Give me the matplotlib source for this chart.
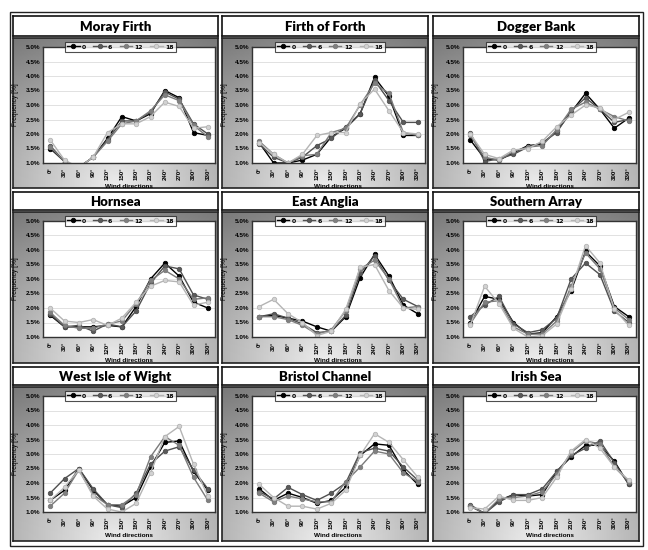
import numpy as np
import matplotlib.pyplot as plt
from matplotlib.patches import Rectangle

# wind direction sectors and hours of the day
directions = [0, 30, 60, 90, 120, 150, 180, 210, 240, 270, 300, 330]
dir_labels = [f"{d}°" for d in directions]
hours = ['0', '6', '12', '18']

sites = ['Moray Firth', 'Firth of Forth', 'Dogger Bank',
         'Hornsea', 'East Anglia', 'Southern Array',
         'West Isle of Wight', 'Bristol Channel', 'Irish Sea']

# frequency [%] per site, one row per hour (0, 6, 12, 18)
moray_firth = [
    [1.50, 1.05, 0.85, 1.20, 1.85, 2.60, 2.45, 2.70, 3.50, 3.25, 2.05, 1.95],
    [1.60, 1.05, 0.85, 1.20, 1.80, 2.45, 2.45, 2.75, 3.45, 3.20, 2.35, 2.00],
    [1.55, 1.05, 0.85, 1.20, 1.75, 2.35, 2.45, 2.80, 3.35, 3.15, 2.30, 1.90],
    [1.80, 1.10, 0.85, 1.20, 2.05, 2.35, 2.35, 2.60, 3.10, 2.95, 2.20, 2.25],
]
firth_of_forth = [
    [1.70, 1.00, 1.00, 1.10, 1.30, 1.90, 2.20, 2.70, 3.95, 3.30, 1.95, 1.95],
    [1.65, 1.20, 1.00, 1.20, 1.60, 1.85, 2.25, 2.70, 3.85, 3.15, 2.40, 2.40],
    [1.75, 1.30, 1.00, 1.25, 1.30, 2.05, 2.20, 3.00, 3.75, 3.40, 2.05, 1.95],
    [1.70, 1.30, 1.00, 1.30, 1.95, 2.05, 2.05, 3.05, 3.55, 2.80, 2.05, 2.00],
]
dogger_bank = [
    [1.80, 1.15, 1.10, 1.35, 1.60, 1.65, 2.10, 2.75, 3.40, 2.85, 2.20, 2.55],
    [2.05, 1.05, 1.15, 1.30, 1.55, 1.70, 2.05, 2.80, 3.25, 2.85, 2.40, 2.50],
    [1.95, 1.20, 1.10, 1.40, 1.55, 1.60, 2.15, 2.85, 3.10, 2.85, 2.60, 2.45],
    [2.00, 1.30, 1.15, 1.45, 1.50, 1.75, 2.25, 2.65, 3.00, 2.90, 2.50, 2.75],
]
hornsea = [
    [1.75, 1.35, 1.35, 1.35, 1.40, 1.35, 2.05, 3.00, 3.55, 3.10, 2.20, 2.00],
    [1.80, 1.35, 1.40, 1.20, 1.45, 1.35, 1.90, 2.85, 3.45, 3.35, 2.45, 2.30],
    [1.85, 1.40, 1.30, 1.30, 1.45, 1.55, 2.15, 2.95, 3.30, 3.00, 2.30, 2.35],
    [2.00, 1.55, 1.50, 1.60, 1.40, 1.65, 2.20, 2.75, 2.95, 2.90, 2.10, 2.20],
]
east_anglia = [
    [1.70, 1.75, 1.65, 1.55, 1.35, 1.20, 1.70, 3.05, 3.85, 3.10, 2.10, 1.80],
    [1.70, 1.80, 1.65, 1.45, 1.15, 1.20, 1.75, 3.20, 3.80, 2.95, 2.30, 2.05],
    [1.70, 1.70, 1.60, 1.40, 1.10, 1.25, 1.90, 3.35, 3.65, 3.00, 2.00, 2.05],
    [2.05, 2.30, 1.80, 1.50, 1.05, 1.20, 1.95, 3.40, 3.50, 2.60, 2.00, 1.95],
]
southern_array = [
    [1.50, 2.40, 2.30, 1.50, 1.10, 1.15, 1.70, 2.60, 3.95, 3.45, 2.05, 1.70],
    [1.70, 2.10, 2.40, 1.45, 1.15, 1.25, 1.65, 3.00, 3.55, 3.15, 1.90, 1.50],
    [1.45, 2.20, 2.25, 1.35, 1.10, 1.10, 1.55, 2.75, 3.90, 3.35, 2.00, 1.60],
    [1.40, 2.75, 2.15, 1.30, 1.00, 1.05, 1.45, 2.65, 4.15, 3.55, 1.95, 1.40],
]
west_isle_of_wight = [
    [1.40, 1.75, 2.50, 1.75, 1.25, 1.20, 1.50, 2.55, 3.40, 3.45, 2.40, 1.75],
    [1.65, 2.15, 2.50, 1.80, 1.25, 1.15, 1.65, 2.65, 3.10, 3.25, 2.45, 1.80],
    [1.20, 1.65, 2.45, 1.60, 1.25, 1.25, 1.60, 2.90, 3.60, 3.30, 2.20, 1.40],
    [1.40, 1.85, 2.45, 1.55, 1.10, 1.00, 1.30, 2.35, 3.60, 3.95, 2.65, 1.55],
]
bristol_channel = [
    [1.80, 1.40, 1.65, 1.50, 1.30, 1.40, 1.85, 2.95, 3.35, 3.30, 2.45, 1.95],
    [1.70, 1.45, 1.85, 1.60, 1.40, 1.65, 2.00, 3.05, 3.20, 3.10, 2.55, 2.10],
    [1.65, 1.35, 1.55, 1.45, 1.35, 1.35, 2.05, 2.55, 3.10, 3.00, 2.35, 2.05],
    [1.95, 1.50, 1.20, 1.20, 1.10, 1.30, 1.75, 2.95, 3.70, 3.40, 2.80, 2.20],
]
irish_sea = [
    [1.20, 0.95, 1.40, 1.60, 1.55, 1.60, 2.40, 2.90, 3.30, 3.30, 2.75, 1.95],
    [1.25, 0.95, 1.35, 1.60, 1.60, 1.80, 2.40, 2.95, 3.20, 3.45, 2.70, 1.95],
    [1.20, 0.95, 1.45, 1.50, 1.55, 1.70, 2.30, 3.05, 3.45, 3.35, 2.55, 2.05],
    [1.15, 1.10, 1.55, 1.40, 1.40, 1.50, 2.20, 3.10, 3.50, 3.20, 2.55, 2.10],
]

site_data = [moray_firth, firth_of_forth, dogger_bank,
             hornsea, east_anglia, southern_array,
             west_isle_of_wight, bristol_channel, irish_sea]

# line / marker colours for 0, 6, 12, 18
line_cols = ['#000000', '#4f4f4f', '#7a7a7a', '#b4b4b4']
face_cols = ['#000000', '#5a5a5a', '#808080', '#d2d2d2']

W, H = 648, 550
fig = plt.figure(figsize=(W / 100, H / 100), dpi=100)


def rect(x0, y0, x1, y1):
    # pixel box (top-left origin) -> figure fraction
    return [x0 / W, 1 - y1 / H, (x1 - x0) / W, (y1 - y0) / H]


col_x = [(13, 218), (222, 428), (433, 639)]
row_title = [(16, 36), (192, 210), (367, 385)]
row_panel = [(38, 188), (212, 363), (387, 541)]

# gradient used behind each chart
gy, gx = np.mgrid[0:1:120j, 0:1:120j]
shade = 0.93 - 0.40 * np.sqrt(((gx - 0.5) * 1.1) ** 2 + (1 - gy) ** 2)

# outer frame
fig.patches.append(Rectangle((10 / W, 1 - 546 / H), 633 / W, 534 / H,
                             transform=fig.transFigure, fill=False,
                             edgecolor='#222222', linewidth=1.0))

for i, name in enumerate(sites):
    r, c = divmod(i, 3)
    x0, x1 = col_x[c]
    t0, t1 = row_title[r]
    p0, p1 = row_panel[r]

    # title box
    tax = fig.add_axes(rect(x0, t0, x1, t1))
    tax.set_xticks([])
    tax.set_yticks([])
    for s in tax.spines.values():
        s.set_linewidth(1.2)
        s.set_color('#111111')
    tax.text(0.5, 0.45, name, ha='center', va='center', fontsize=9.5,
             fontweight='heavy', family=['Lato', 'DejaVu Sans'],
             transform=tax.transAxes)

    # shaded panel
    bax = fig.add_axes(rect(x0, p0, x1, p1))
    bax.imshow(shade, cmap='gray', vmin=0, vmax=1, aspect='auto',
               extent=[0, 1, 0, 1])
    bax.set_xticks([])
    bax.set_yticks([])
    for s in bax.spines.values():
        s.set_linewidth(1.2)
        s.set_color('#222222')

    # chart
    ax = fig.add_axes(rect(x0 + 30, p0 + 9, x1 - 3, p0 + 125))
    ax.set_facecolor('white')
    for k, hr in enumerate(hours):
        ax.plot(directions, site_data[i][k], color=line_cols[k], lw=1.0,
                marker='o', markersize=3.2, markerfacecolor=face_cols[k],
                markeredgecolor=line_cols[k], markeredgewidth=0.6,
                label=hr)
    ax.set_xlim(-15, 345)
    ax.set_ylim(1.0, 5.0)
    ax.set_xticks(directions)
    ax.set_xticklabels(dir_labels, rotation=90, fontsize=4.4,
                       fontweight='bold', family='Liberation Sans')
    yt = np.arange(1.0, 5.01, 0.5)
    ax.set_yticks(yt)
    ax.set_yticklabels([f"{v:.1f}%" for v in yt], fontsize=4.6,
                       fontweight='bold', family='Liberation Sans')
    ax.tick_params(axis='y', length=0, pad=2)
    ax.tick_params(axis='x', length=0, pad=3)
    ax.grid(axis='y', color='#dcdcdc', linewidth=0.6)
    ax.set_axisbelow(True)
    for s in ax.spines.values():
        s.set_linewidth(1.0)
        s.set_color('#333333')
    ax.set_ylabel('Frequency [%]', fontsize=4.8, family='Liberation Sans')
    ax.yaxis.set_label_coords(-0.14, 0.5)
    ax.set_xlabel('Wind directions', fontsize=4.6, fontweight='bold',
                  family='Liberation Sans', labelpad=3)
    leg = ax.legend(loc='center', bbox_to_anchor=(0.45, 1.0), ncol=4,
                    frameon=True, fancybox=False,
                    handlelength=2.0, handletextpad=0.4, columnspacing=1.2,
                    borderpad=0.35, prop={'weight': 'bold', 'size': 4.4})
    leg.get_frame().set_edgecolor('#222222')
    leg.get_frame().set_linewidth(0.8)

fig.savefig('out.png', dpi=100)
